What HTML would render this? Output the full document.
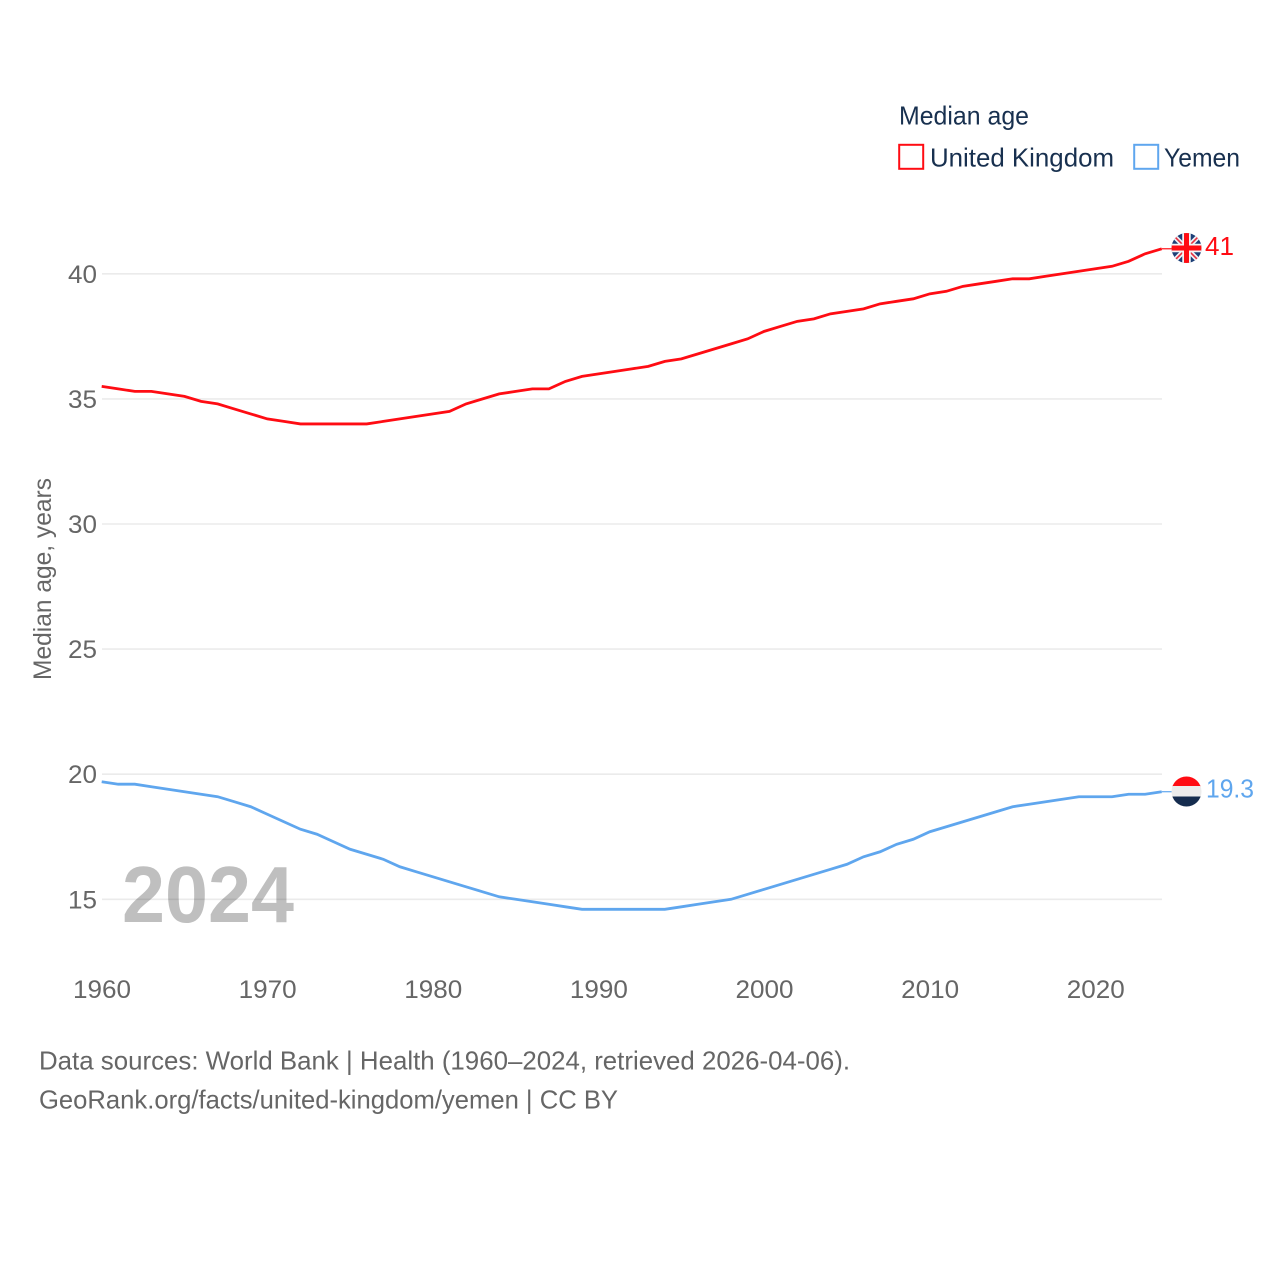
<!DOCTYPE html>
<html lang="en">
<head>
<meta charset="utf-8">
<title>Median age: United Kingdom vs Yemen</title>
<style>
html,body{margin:0;padding:0;background:#fff;}
svg{display:block;}
text{font-family:"Liberation Sans",sans-serif;}
</style>
</head>
<body>
<svg id="chart" xmlns="http://www.w3.org/2000/svg" width="1280" height="1280" viewBox="0 0 1280 1280">
  <rect x="0" y="0" width="1280" height="1280" fill="#fff"/>
  <g id="grid"></g>
  <g id="yticks"></g>
  <g id="xticks"></g>

  <text transform="translate(51,680) rotate(-90)" font-size="25" fill="#666" textLength="202" lengthAdjust="spacingAndGlyphs">Median age, years</text>
  <text x="122" y="922" font-size="80" font-weight="700" fill="#000" fill-opacity="0.25" textLength="172" lengthAdjust="spacingAndGlyphs">2024</text>

  <g id="series"></g>

  <g>
    <text x="899" y="124.5" font-size="26" fill="#18304f" textLength="130" lengthAdjust="spacingAndGlyphs">Median age</text>
    <rect x="899.2" y="144.8" width="24" height="24" fill="#fff" stroke="#ff0c13" stroke-width="2"/>
    <text x="930" y="166.5" font-size="26" fill="#18304f" textLength="184" lengthAdjust="spacingAndGlyphs">United Kingdom</text>
    <rect x="1134.2" y="144.8" width="24" height="24" fill="#fff" stroke="#5fa6ee" stroke-width="2"/>
    <text x="1164" y="166.5" font-size="26" fill="#18304f" textLength="76" lengthAdjust="spacingAndGlyphs">Yemen</text>
  </g>

  <defs>
    <clipPath id="uk-clip"><circle cx="1186.5" cy="248" r="15"/></clipPath>
    <clipPath id="ye-clip"><circle cx="1186.5" cy="791.5" r="15"/></clipPath>
  </defs>

  <g clip-path="url(#uk-clip)">
    <rect x="1171" y="233" width="31" height="31" fill="#1c3f77"/>
    <path d="M1171 233L1202 264M1202 233L1171 264" stroke="#eef2f6" stroke-width="5"/>
    <path d="M1171 233L1202 264M1202 233L1171 264" stroke="#e8303f" stroke-width="1.6"/>
    <path d="M1186.5 233V264M1171 248H1202" stroke="#f4f4f4" stroke-width="8.5"/>
    <path d="M1186.5 233V264M1171 248H1202" stroke="#ff0c13" stroke-width="5"/>
  </g>
  <text x="1205" y="255" font-size="26" fill="#ff0c13" textLength="29" lengthAdjust="spacingAndGlyphs">41</text>

  <g clip-path="url(#ye-clip)">
    <rect x="1171" y="776" width="31" height="11" fill="#ff0c13"/>
    <rect x="1171" y="786" width="31" height="11" fill="#ececec"/>
    <rect x="1171" y="796.5" width="31" height="11" fill="#152c4e"/>
  </g>
  <text x="1206" y="797.5" font-size="26" fill="#5fa6ee" textLength="48" lengthAdjust="spacingAndGlyphs">19.3</text>

  <g>
    <text x="39" y="1069.5" font-size="26" fill="#666" textLength="811" lengthAdjust="spacingAndGlyphs">Data sources: World Bank | Health (1960–2024, retrieved 2026-04-06).</text>
    <text x="39" y="1108.5" font-size="26" fill="#666" textLength="579" lengthAdjust="spacingAndGlyphs">GeoRank.org/facts/united-kingdom/yemen | CC BY</text>
  </g>
</svg>
<script>
const startYear = 1960;
const yTickValues = [15, 20, 25, 30, 35, 40];
const xTickValues = [1960, 1970, 1980, 1990, 2000, 2010, 2020];
const ukValues = [35.5,35.4,35.3,35.3,35.2,35.1,34.9,34.8,34.6,34.4,34.2,34.1,34.0,34.0,34.0,34.0,34.0,34.1,34.2,34.3,34.4,34.5,34.8,35.0,35.2,35.3,35.4,35.4,35.7,35.9,36.0,36.1,36.2,36.3,36.5,36.6,36.8,37.0,37.2,37.4,37.7,37.9,38.1,38.2,38.4,38.5,38.6,38.8,38.9,39.0,39.2,39.3,39.5,39.6,39.7,39.8,39.8,39.9,40.0,40.1,40.2,40.3,40.5,40.8,41.0];
const yemenValues = [19.7,19.6,19.6,19.5,19.4,19.3,19.2,19.1,18.9,18.7,18.4,18.1,17.8,17.6,17.3,17.0,16.8,16.6,16.3,16.1,15.9,15.7,15.5,15.3,15.1,15.0,14.9,14.8,14.7,14.6,14.6,14.6,14.6,14.6,14.6,14.7,14.8,14.9,15.0,15.2,15.4,15.6,15.8,16.0,16.2,16.4,16.7,16.9,17.2,17.4,17.7,17.9,18.1,18.3,18.5,18.7,18.8,18.9,19.0,19.1,19.1,19.1,19.2,19.2,19.3];

const NS = 'http://www.w3.org/2000/svg';
const xScale = function (year) { return 101.7 + (year - 1960) * (1162 - 102) / 64; };
const yScale = function (v) { return 899.3 - (v - 15) * (899.5 - 274) / 25; };

const grid = document.getElementById('grid');
const yticks = document.getElementById('yticks');
const xticks = document.getElementById('xticks');
const series = document.getElementById('series');

yTickValues.forEach(function (v) {
  const line = document.createElementNS(NS, 'line');
  
  
  line.setAttribute('x1', 102);
  line.setAttribute('x2', 1162);
  line.setAttribute('y1', yScale(v));
  line.setAttribute('y2', yScale(v));
  line.setAttribute('stroke', '#ebebeb');
  line.setAttribute('stroke-width', '1.6');
  grid.appendChild(line);

  const label = document.createElementNS(NS, 'text');
  
  
  label.setAttribute('x', 97);
  label.setAttribute('y', yScale(v) + 9);
  label.setAttribute('text-anchor', 'end');
  label.setAttribute('font-size', '25');
  label.setAttribute('fill', '#666');
  label.setAttribute('textLength', '29');
  label.setAttribute('lengthAdjust', 'spacingAndGlyphs');
  label.textContent = v;
  yticks.appendChild(label);
});

xTickValues.forEach(function (yr) {
  const label = document.createElementNS(NS, 'text');
  
  
  label.setAttribute('x', xScale(yr) + 0.3);
  label.setAttribute('y', 998);
  label.setAttribute('text-anchor', 'middle');
  label.setAttribute('font-size', '25');
  label.setAttribute('fill', '#666');
  label.setAttribute('textLength', '58');
  label.setAttribute('lengthAdjust', 'spacingAndGlyphs');
  label.textContent = yr;
  xticks.appendChild(label);
});

function pathFor(values) {
  return values.map(function (v, i) {
    return (i ? 'L' : 'M') + xScale(startYear + i).toFixed(2) + ' ' + yScale(v).toFixed(2);
  }).join('');
}

const ukLine = document.createElementNS(NS, 'path');


ukLine.setAttribute('d', pathFor(ukValues));
ukLine.setAttribute('fill', 'none');
ukLine.setAttribute('stroke', '#ff0c13');
ukLine.setAttribute('stroke-width', '2.8');
series.appendChild(ukLine);

const yemenLine = document.createElementNS(NS, 'path');


yemenLine.setAttribute('d', pathFor(yemenValues));
yemenLine.setAttribute('fill', 'none');
yemenLine.setAttribute('stroke', '#5fa6ee');
yemenLine.setAttribute('stroke-width', '2.8');
series.appendChild(yemenLine);

const ukConnector = document.createElementNS(NS, 'line');


ukConnector.setAttribute('x1', xScale(2024));
ukConnector.setAttribute('x2', 1172);
ukConnector.setAttribute('y1', yScale(ukValues[ukValues.length - 1]));
ukConnector.setAttribute('y2', yScale(ukValues[ukValues.length - 1]));
ukConnector.setAttribute('stroke', '#ff0c13');
ukConnector.setAttribute('stroke-width', '1.2');
series.appendChild(ukConnector);

const yemenConnector = document.createElementNS(NS, 'line');


yemenConnector.setAttribute('x1', xScale(2024));
yemenConnector.setAttribute('x2', 1172);
yemenConnector.setAttribute('y1', yScale(yemenValues[yemenValues.length - 1]));
yemenConnector.setAttribute('y2', yScale(yemenValues[yemenValues.length - 1]));
yemenConnector.setAttribute('stroke', '#5fa6ee');
yemenConnector.setAttribute('stroke-width', '1.2');
series.appendChild(yemenConnector);
</script>
</body>
</html>
